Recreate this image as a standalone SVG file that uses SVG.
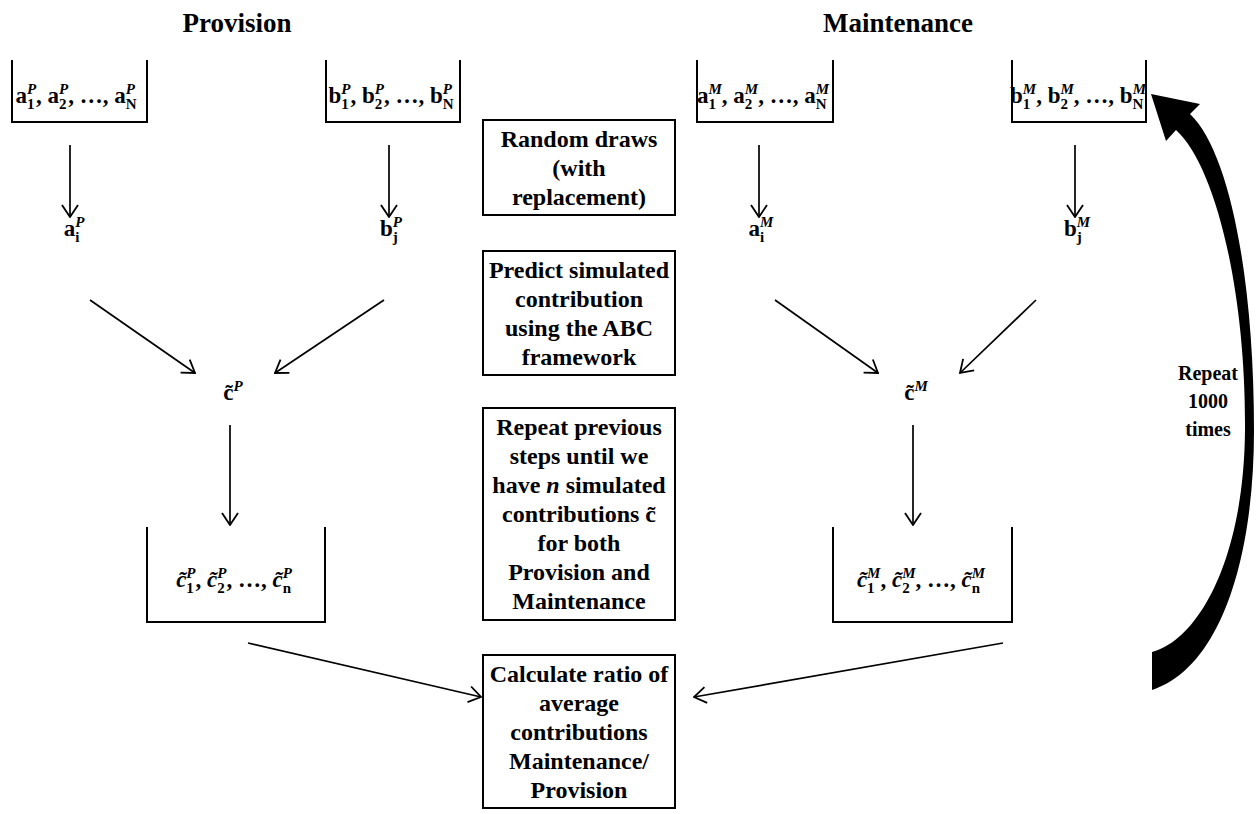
<svg xmlns="http://www.w3.org/2000/svg" width="1256" height="814" viewBox="0 0 1256 814">
<defs>
<style>
.t{font-family:"Liberation Serif","Times New Roman",serif;font-weight:bold;font-size:24px;fill:#000;text-anchor:middle}
.ttl{font-family:"Liberation Serif","Times New Roman",serif;font-weight:bold;font-size:27px;fill:#000;text-anchor:middle}
.m{font-family:"Liberation Serif","Times New Roman",serif;font-weight:bold;font-size:23px;fill:#000;text-anchor:middle}
.s{font-size:15px}
.si{font-size:15px;font-style:italic}
.box{fill:#fff;stroke:#000;stroke-width:2}
.cup{fill:none;stroke:#000;stroke-width:2}
.arr{stroke:#000;stroke-width:1.7;fill:none;marker-end:url(#ah)}
</style>
<marker id="ah" viewBox="0 0 14 18" refX="13" refY="9" markerWidth="14" markerHeight="18" markerUnits="userSpaceOnUse" orient="auto">
<path d="M1,1 L13,9 L1,17" fill="none" stroke="#000" stroke-width="1.8"/>
</marker>
</defs>
<rect width="1256" height="814" fill="#fff"/>
<text class="ttl" x="237" y="32">Provision</text>
<text class="ttl" x="898" y="32">Maintenance</text>

<g id="connectors">
<line class="arr" x1="70" y1="145" x2="70" y2="217"/>
<line class="arr" x1="389" y1="145" x2="389" y2="217"/>
<line class="arr" x1="759" y1="145" x2="759" y2="217"/>
<line class="arr" x1="1075" y1="145" x2="1075" y2="217"/>
<line class="arr" x1="90" y1="300" x2="195" y2="373"/>
<line class="arr" x1="384" y1="300" x2="275" y2="373"/>
<line class="arr" x1="775" y1="300" x2="878" y2="373"/>
<line class="arr" x1="1036" y1="300" x2="960" y2="373"/>
<line class="arr" x1="230" y1="425" x2="230" y2="525"/>
<line class="arr" x1="913" y1="425" x2="913" y2="525"/>
<line class="arr" x1="248" y1="643" x2="481" y2="697"/>
<line class="arr" x1="1003" y1="643" x2="694" y2="697"/>
<path id="repeat-arrow" d="M1190,114 C1230,152 1254,280 1254,430 C1254,560 1220,668 1152,690 L1152,652 C1198,640 1244,560 1245,430 C1246,290 1215,165 1176,130 L1166,141 L1151,94 L1200,104 Z" fill="#000"/>
</g>

<g id="pool-aP">
<path class="cup" d="M12,60 V122 H147 V60"/>
<text class="m" x="76" y="103"><tspan>a</tspan><tspan class="s" dy="6">1</tspan><tspan class="si" dx="-7.5" dy="-15">P</tspan><tspan dy="9">, a</tspan><tspan class="s" dy="6">2</tspan><tspan class="si" dx="-7.5" dy="-15">P</tspan><tspan dy="9">, …, a</tspan><tspan class="s" dy="6">N</tspan><tspan class="si" dx="-10.8" dy="-15">P</tspan></text>
</g>
<g id="pool-bP">
<path class="cup" d="M326,60 V122 H460 V60"/>
<text class="m" x="391" y="103"><tspan>b</tspan><tspan class="s" dy="6">1</tspan><tspan class="si" dx="-7.5" dy="-15">P</tspan><tspan dy="9">, b</tspan><tspan class="s" dy="6">2</tspan><tspan class="si" dx="-7.5" dy="-15">P</tspan><tspan dy="9">, …, b</tspan><tspan class="s" dy="6">N</tspan><tspan class="si" dx="-10.8" dy="-15">P</tspan></text>
</g>
<g id="pool-aM">
<path class="cup" d="M697,60 V122 H833 V60"/>
<text class="m" x="763" y="103"><tspan>a</tspan><tspan class="s" dy="6">1</tspan><tspan class="si" dx="-7.5" dy="-15">M</tspan><tspan dy="9">, a</tspan><tspan class="s" dy="6">2</tspan><tspan class="si" dx="-7.5" dy="-15">M</tspan><tspan dy="9">, …, a</tspan><tspan class="s" dy="6">N</tspan><tspan class="si" dx="-10.8" dy="-15">M</tspan></text>
</g>
<g id="pool-bM">
<path class="cup" d="M1012,60 V122 H1146 V60"/>
<text class="m" x="1078" y="103"><tspan>b</tspan><tspan class="s" dy="6">1</tspan><tspan class="si" dx="-7.5" dy="-15">M</tspan><tspan dy="9">, b</tspan><tspan class="s" dy="6">2</tspan><tspan class="si" dx="-7.5" dy="-15">M</tspan><tspan dy="9">, …, b</tspan><tspan class="s" dy="6">N</tspan><tspan class="si" dx="-10.8" dy="-15">M</tspan></text>
</g>

<g id="draw-aP"><text class="m" x="74" y="236"><tspan>a</tspan><tspan class="s" dy="6">i</tspan><tspan class="si" dx="-4.2" dy="-15">P</tspan></text></g>
<g id="draw-bP"><text class="m" x="391" y="236"><tspan>b</tspan><tspan class="s" dy="6">j</tspan><tspan class="si" dx="-5" dy="-15">P</tspan></text></g>
<g id="draw-aM"><text class="m" x="761" y="236"><tspan>a</tspan><tspan class="s" dy="6">i</tspan><tspan class="si" dx="-4.2" dy="-15">M</tspan></text></g>
<g id="draw-bM"><text class="m" x="1077" y="236"><tspan>b</tspan><tspan class="s" dy="6">j</tspan><tspan class="si" dx="-5" dy="-15">M</tspan></text></g>

<g id="sim-cP"><text class="m" x="233" y="400"><tspan>c̃</tspan><tspan class="si" dy="-9">P</tspan></text></g>
<g id="sim-cM"><text class="m" x="916" y="400"><tspan>c̃</tspan><tspan class="si" dy="-9">M</tspan></text></g>

<g id="list-cP">
<path class="cup" d="M147,527 V622 H325 V527"/>
<text class="m" x="234" y="587"><tspan font-style="italic">c̃</tspan><tspan class="s" dy="6">1</tspan><tspan class="si" dx="-7.5" dy="-15">P</tspan><tspan dy="9">, </tspan><tspan font-style="italic">c̃</tspan><tspan class="s" dy="6">2</tspan><tspan class="si" dx="-7.5" dy="-15">P</tspan><tspan dy="9">, …, </tspan><tspan font-style="italic">c̃</tspan><tspan class="s" dy="6">n</tspan><tspan class="si" dx="-8.3" dy="-15">P</tspan></text>
</g>
<g id="list-cM">
<path class="cup" d="M833,527 V622 H1012 V527"/>
<text class="m" x="921" y="587"><tspan font-style="italic">c̃</tspan><tspan class="s" dy="6">1</tspan><tspan class="si" dx="-7.5" dy="-15">M</tspan><tspan dy="9">, </tspan><tspan font-style="italic">c̃</tspan><tspan class="s" dy="6">2</tspan><tspan class="si" dx="-7.5" dy="-15">M</tspan><tspan dy="9">, …, </tspan><tspan font-style="italic">c̃</tspan><tspan class="s" dy="6">n</tspan><tspan class="si" dx="-8.3" dy="-15">M</tspan></text>
</g>

<g id="step-draws">
<rect class="box" x="483" y="120" width="192" height="95"/>
<text class="t" x="579" y="147">Random draws</text>
<text class="t" x="579" y="176">(with</text>
<text class="t" x="579" y="205">replacement)</text>
</g>
<g id="step-predict">
<rect class="box" x="483" y="251" width="192" height="124"/>
<text class="t" x="579" y="278">Predict simulated</text>
<text class="t" x="579" y="307">contribution</text>
<text class="t" x="579" y="336">using the ABC</text>
<text class="t" x="579" y="365">framework</text>
</g>
<g id="step-repeat">
<rect class="box" x="483" y="408" width="192" height="212"/>
<text class="t" x="579" y="435">Repeat previous</text>
<text class="t" x="579" y="464">steps until we</text>
<text class="t" x="579" y="493">have <tspan font-style="italic">n</tspan> simulated</text>
<text class="t" x="579" y="522">contributions c̃</text>
<text class="t" x="579" y="551">for both</text>
<text class="t" x="579" y="580">Provision and</text>
<text class="t" x="579" y="609">Maintenance</text>
</g>
<g id="step-ratio">
<rect class="box" x="483" y="655" width="192" height="153"/>
<text class="t" x="579" y="682">Calculate ratio of</text>
<text class="t" x="579" y="711">average</text>
<text class="t" x="579" y="740">contributions</text>
<text class="t" x="579" y="769">Maintenance/</text>
<text class="t" x="579" y="798">Provision</text>
</g>
<g id="repeat-label">
<text class="t" x="1208" y="380" style="font-size:20px">Repeat</text>
<text class="t" x="1208" y="408" style="font-size:20px">1000</text>
<text class="t" x="1208" y="436" style="font-size:20px">times</text>
</g>
</svg>
